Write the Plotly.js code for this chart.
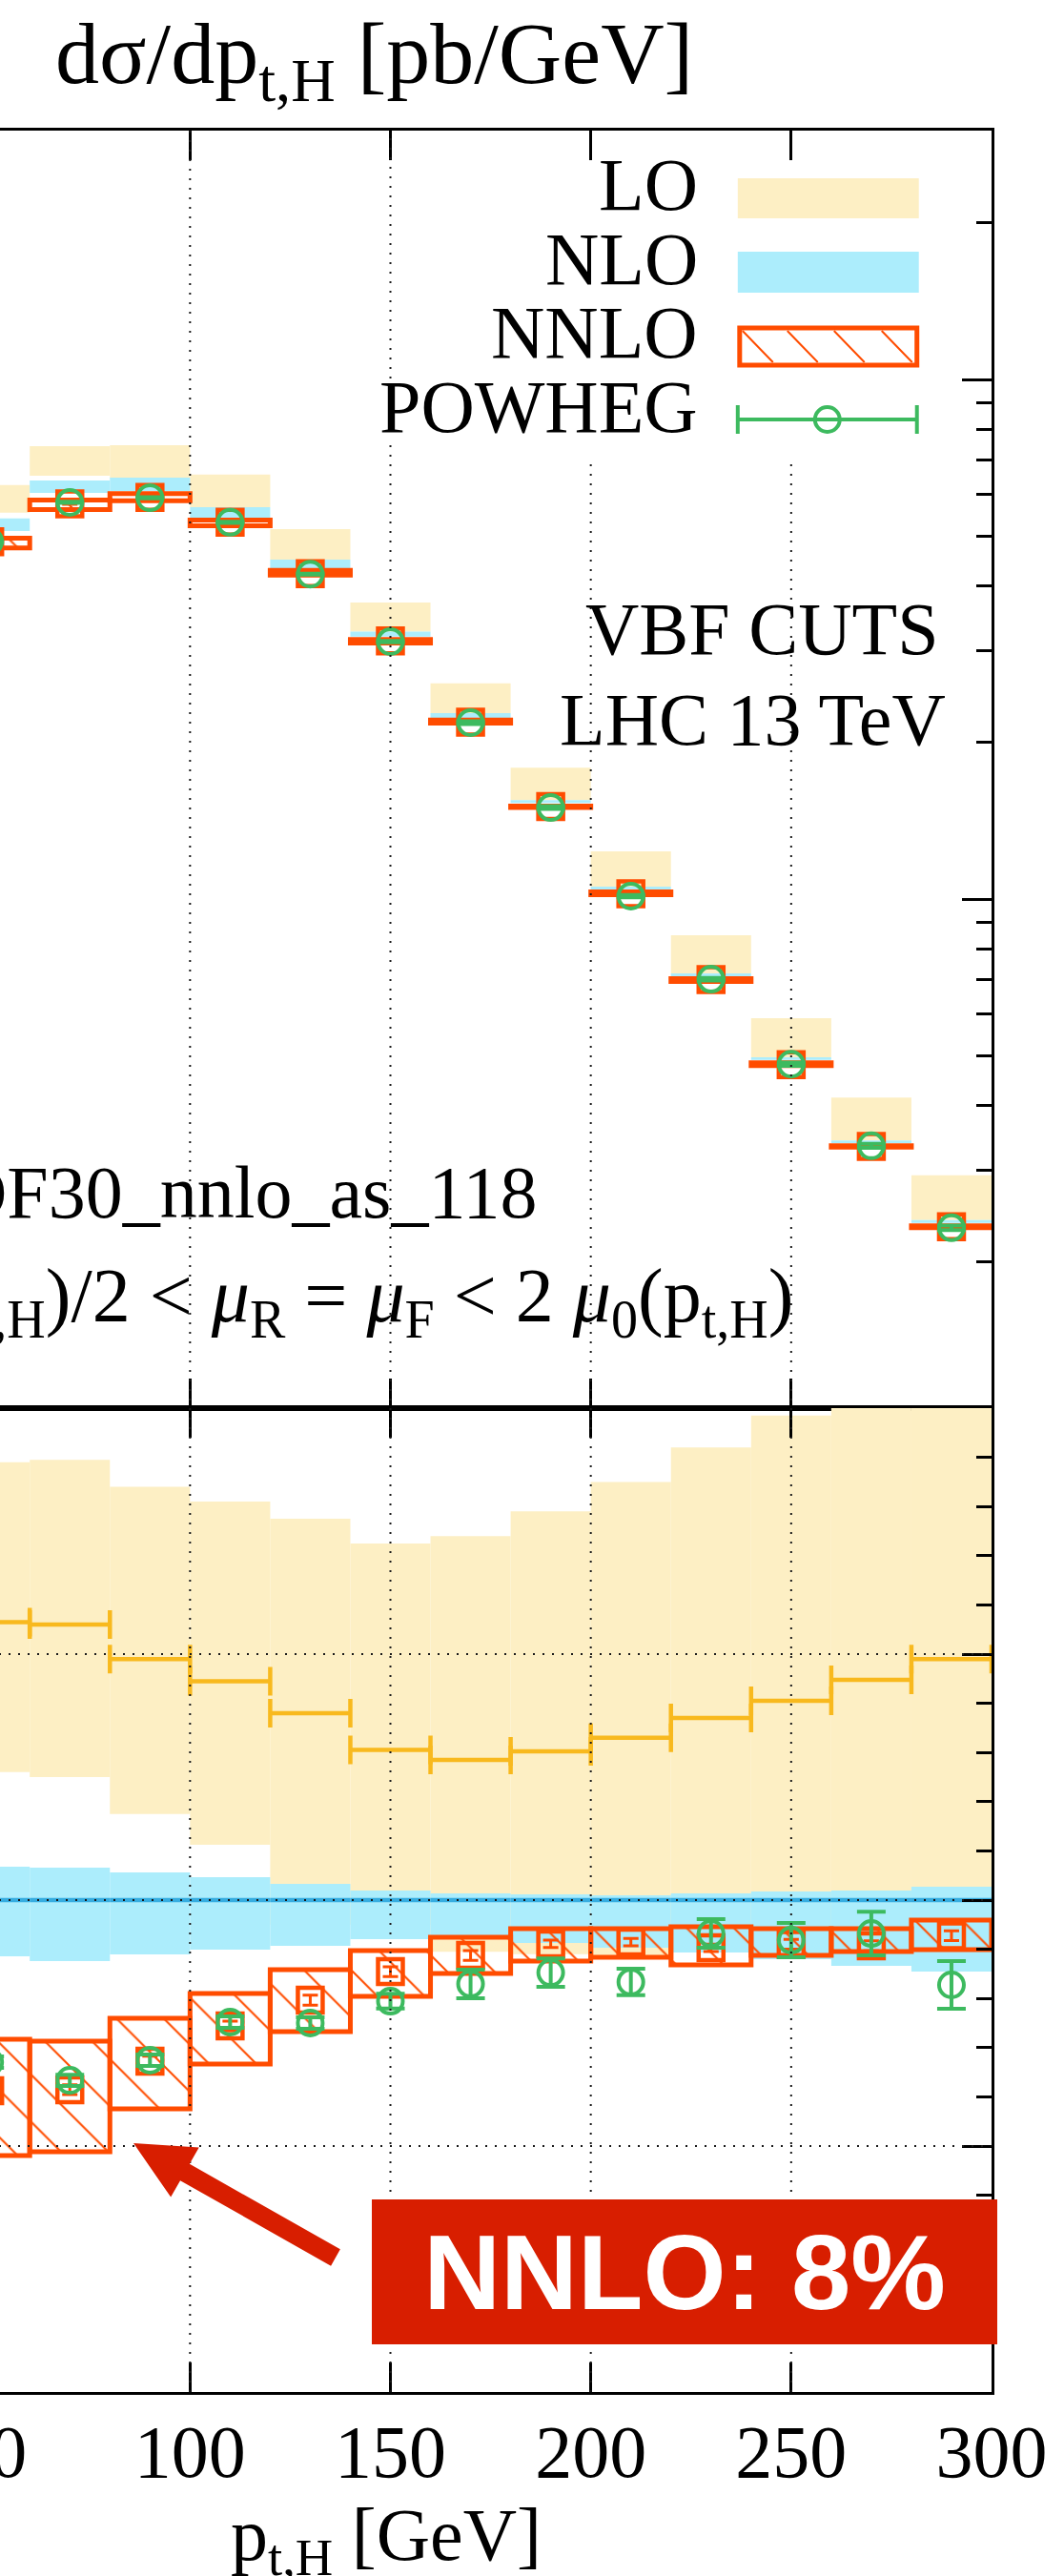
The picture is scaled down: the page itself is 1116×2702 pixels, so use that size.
<!DOCTYPE html>
<html><head><meta charset="utf-8">
<script src="https://cdn.plot.ly/plotly-3.0.1.min.js"></script>
<style>
html,body{margin:0;padding:0;overflow:hidden;background:#fff;width:1116px;height:2702px;}
#plot{position:absolute;left:-500px;top:0;width:1616px;height:2702px;}
</style></head><body><div id="plot"></div>
<script>
// ---------------- data ----------------
const binEdges = [40,60,80,100,120,140,160,180,200,220,240,260,280,300];
const xTickVals = [0,50,100,150,200,250,300];
const xTickText = ['0','50','100','150','200','250','300'];

// upper panel: dsigma/dpt [pb/GeV]
const loTopHi   = [6.26e-3,7.44e-3,7.47e-3,6.56e-3,5.15e-3,3.72e-3,2.60e-3,1.79e-3,1.235e-3,8.52e-4,5.90e-4,4.15e-4,2.94e-4];
const loTopLo   = [5.54e-3,6.53e-3,6.45e-3,5.68e-3,4.50e-3,3.27e-3,2.28e-3,1.55e-3,1.056e-3,7.19e-4,4.96e-4,3.43e-4,2.41e-4];
const nloTopHi  = [5.40e-3,6.39e-3,6.47e-3,5.68e-3,4.50e-3,3.27e-3,2.28e-3,1.55e-3,1.056e-3,7.19e-4,4.96e-4,3.43e-4,2.41e-4];
const nloTopLo  = [5.11e-3,6.05e-3,6.10e-3,5.42e-3,4.33e-3,3.20e-3,2.23e-3,1.53e-3,1.043e-3,7.10e-4,4.90e-4,3.39e-4,2.38e-4];
const nnloTopHi = [4.95e-3,5.86e-3,6.03e-3,5.36e-3,4.29e-3,3.16e-3,2.21e-3,1.51e-3,1.032e-3,7.03e-4,4.84e-4,3.35e-4,2.35e-4];
const nnloTopLo = [4.74e-3,5.62e-3,5.84e-3,5.23e-3,4.20e-3,3.11e-3,2.18e-3,1.50e-3,1.019e-3,6.94e-4,4.78e-4,3.33e-4,2.33e-4];
const nnloTopC  = [4.87e-3,5.76e-3,5.93e-3,5.31e-3,4.23e-3,3.14e-3,2.19e-3,1.507e-3,1.023e-3,7.00e-4,4.80e-4,3.34e-4,2.34e-4];
const powTopC   = [4.88e-3,5.80e-3,5.92e-3,5.31e-3,4.22e-3,3.13e-3,2.185e-3,1.50e-3,1.013e-3,7.01e-4,4.81e-4,3.35e-4,2.33e-4];

// lower panel: ratio to NLO
const loRHi   = [1.178,1.179,1.168,1.162,1.155,1.145,1.148,1.158,1.170,1.184,1.197,1.215,1.23];
const loRLo   = [1.052,1.050,1.035,1.0225,0.990,0.990,0.979,0.978,0.9775,0.985,0.985,0.985,0.985];
const loRC    = [1.113,1.112,1.098,1.089,1.076,1.061,1.057,1.0605,1.066,1.074,1.081,1.0895,1.098];
const nloRHi  = [1.0136,1.0132,1.0112,1.0093,1.0066,1.0039,1.0027,1.0023,1.0019,1.0027,1.0035,1.0039,1.0054];
const nloRLo  = [0.9771,0.9752,0.9779,0.9798,0.9814,0.9841,0.9845,0.9826,0.9806,0.9787,0.9760,0.9733,0.9709];
const nloRC   = [1,1,1,1,1,1,1,1,1,1,1,1,1];
const nnloRHi = [0.9434,0.9426,0.9519,0.9620,0.9717,0.9795,0.9849,0.9884,0.9884,0.9891,0.9884,0.9884,0.9919];
const nnloRLo = [0.8961,0.8977,0.9151,0.9333,0.9465,0.9609,0.9702,0.9752,0.9767,0.9736,0.9775,0.9791,0.9798];
const nnloRC  = [0.9225,0.9229,0.9345,0.9488,0.9593,0.9709,0.9775,0.9822,0.9829,0.9806,0.9820,0.9814,0.9855];
const nnloRErr= [0.002,0.002,0.002,0.002,0.002,0.002,0.002,0.0015,0.0015,0.0015,0.002,0.002,0.002];
const powRC   = [0.9341,0.9267,0.9349,0.9504,0.9500,0.9589,0.9659,0.9705,0.9667,0.9864,0.9837,0.9864,0.9655];
const powRErr = [0.0023,0.0023,0.0023,0.0023,0.0023,0.003,0.0058,0.0058,0.0054,0.0058,0.0070,0.0089,0.0097];

// ---------------- geometry / style ----------------
const SHIFT = 500, W = 1616, H = 2702;
const ML = SHIFT - 221.2, PW = 1261.5, MR = W - ML - PW;
const MT = 137, MB = 193, PH = H - MT - MB;
const SPLIT = (2509 - 1477) / PH;
const px = xp => (xp + SHIFT - ML) / PW;
const py = yp => (H - MB - yp) / PH;

const C_LO = '#fdefc4', C_NLO = '#acedfc', C_NNLO = '#ff4c00', C_POW = '#3dba5f';
const C_LOLINE = '#f8b91e', C_NLOLINE = '#37ade0', C_RED = '#d81e00';
const FONT = 'Liberation Serif';

const binCenters = binEdges.slice(0,-1).map((e,i)=>(e+binEdges[i+1])/2);
const binHalf = binEdges.slice(0,-1).map((e,i)=>(binEdges[i+1]-e)/2);
const binWidth = binHalf.map(h=>2*h);
const span = (hi, lo) => hi.map((h,i)=>h-lo[i]);

function band(hi, lo, color, xa, ya) {
  return {type:'bar', x:binCenters, y:span(hi,lo), base:lo, width:binWidth,
    xaxis:xa, yaxis:ya, marker:{color:color, line:{width:0}}, hoverinfo:'skip'};
}
function hatched(hi, lo, xa, ya) {
  return {type:'bar', x:binCenters, y:span(hi,lo), base:lo, width:binWidth,
    xaxis:xa, yaxis:ya, hoverinfo:'skip',
    marker:{color:'rgba(0,0,0,0)', line:{color:C_NNLO, width:5},
      pattern:{shape:'\\', fgcolor:C_NNLO, bgcolor:'rgba(0,0,0,0)', size:35, solidity:0.06}}};
}
function squares(yv, err, xa, ya) {
  return {type:'scatter', mode:'markers', x:binCenters, y:yv, xaxis:xa, yaxis:ya,
    marker:{symbol:'square-open', size:26, color:C_NNLO, line:{color:C_NNLO, width:4.5}},
    error_y:{type:'data', array:err, visible:true, color:C_NNLO, thickness:3, width:8}, cliponaxis:true};
}
function circles(yv, err, xa, ya) {
  return {type:'scatter', mode:'markers', x:binCenters, y:yv, xaxis:xa, yaxis:ya,
    marker:{symbol:'circle-open', size:26, color:C_POW, line:{color:C_POW, width:4}},
    error_y:{type:'data', array:err, visible:true, color:C_POW, thickness:4, width:15}, cliponaxis:true};
}
function stepLine(yv, color, capw, xa, ya) {
  return {type:'scatter', mode:'markers', x:binCenters, y:yv, xaxis:xa, yaxis:ya,
    marker:{size:1, color:'rgba(0,0,0,0)'},
    error_x:{type:'data', array:binHalf, visible:true, color:color, thickness:4.5, width:capw}};
}

const nnloTopErr = nnloTopC.map((v,i)=>v*nnloRErr[i]/nnloRC[i]);
const powTopErr = powTopC.map((v,i)=>v*powRErr[i]/powRC[i]);

const traces = [
  band(loTopHi, loTopLo, C_LO, 'x', 'y'),
  band(nloTopHi, nloTopLo, C_NLO, 'x', 'y'),
  hatched(nnloTopHi, nnloTopLo, 'x', 'y'),
  squares(nnloTopC, nnloTopErr, 'x', 'y'),
  circles(powTopC, powTopErr, 'x', 'y'),
  band(loRHi, loRLo, C_LO, 'x2', 'y2'),
  band(nloRHi, nloRLo, C_NLO, 'x2', 'y2'),
  hatched(nnloRHi, nnloRLo, 'x2', 'y2'),
  stepLine(nloRC, C_NLOLINE, 0, 'x2', 'y2'),
  stepLine(loRC, C_LOLINE, 15, 'x2', 'y2'),
  squares(nnloRC, nnloRErr, 'x2', 'y2'),
  circles(powRC, powRErr, 'x2', 'y2')
];

// ---------------- axes ----------------
const yMinorVals = [];
for (let d=-4; d<=-2; d++) for (let k=2; k<=9; k++) yMinorVals.push(k*Math.pow(10,d));

const axBase = {ticks:'inside', ticklen:31, tickwidth:3, tickcolor:'#000', showline:true,
  linewidth:3, linecolor:'#000', mirror:'ticks', showgrid:false, zeroline:false};

const layout = {
  width:W, height:H, margin:{l:ML, r:MR, t:MT, b:MB, pad:0},
  paper_bgcolor:'#fff', plot_bgcolor:'#fff', showlegend:false, barmode:'overlay', hovermode:false,
  font:{family:FONT, size:78, color:'#000'},
  xaxis:Object.assign({}, axBase, {domain:[0,1], anchor:'y', range:[0,300], tickmode:'array',
    tickvals:xTickVals, showticklabels:false}),
  xaxis2:Object.assign({}, axBase, {domain:[0,1], anchor:'y2', range:[0,300], tickmode:'array',
    tickvals:xTickVals, ticktext:xTickText, showticklabels:true, ticklabelstandoff:-8,
    tickfont:{family:FONT, size:78, color:'#000'}}),
  yaxis:Object.assign({}, axBase, {domain:[SPLIT,1], anchor:'x', type:'log', range:[-3.9798,-1.5211],
    tickmode:'array', tickvals:[1e-4,1e-3,1e-2], showticklabels:false,
    minor:{tickmode:'array', tickvals:yMinorVals, ticks:'inside', ticklen:16, tickwidth:3, tickcolor:'#000', showgrid:false}}),
  yaxis2:Object.assign({}, axBase, {domain:[0,SPLIT], anchor:'x2', range:[0.8,1.2],
    tickmode:'array', tickvals:[0.8,0.9,1.0,1.1,1.2], showticklabels:false,
    minor:{tick0:0.8, dtick:0.02, ticks:'inside', ticklen:16, tickwidth:3, tickcolor:'#000', showgrid:false}})
};

// ---------------- shapes ----------------
const dot = {color:'#1a1a1a', width:2, dash:'2px,8px'};
const shapes = [];
function vgrid(x, y0p, y1p) { shapes.push({type:'line', layer:'above', xref:'x', yref:'paper', x0:x, x1:x, y0:y0p, y1:y1p, line:dot}); }
vgrid(50, 0, 1);
vgrid(100, 0, 1);
vgrid(150, 0, py(460)); vgrid(150, py(397), 1);
vgrid(200, 0, py(480));
vgrid(250, 0, py(480));
shapes.push({type:'line', layer:'above', xref:'x', yref:'y', x0:0, x1:(491+221.2)/4.205, y0:-2, y1:-2, line:dot});
shapes.push({type:'line', layer:'above', xref:'x', yref:'y', x0:0, x1:300, y0:-3, y1:-3, line:dot});
[0.9,1.0,1.1].forEach(v=>shapes.push({type:'line', layer:'above', xref:'x2', yref:'y2', x0:0, x1:300, y0:v, y1:v, line:dot}));

// legend swatches
const P = (x,y)=>px(x).toFixed(5)+','+py(y).toFixed(5);
shapes.push({type:'rect', layer:'above', xref:'paper', yref:'paper', x0:px(774), x1:px(964), y0:py(229), y1:py(187), fillcolor:C_LO, line:{width:0}});
shapes.push({type:'rect', layer:'above', xref:'paper', yref:'paper', x0:px(774), x1:px(964), y0:py(307), y1:py(264), fillcolor:C_NLO, line:{width:0}});
shapes.push({type:'rect', layer:'above', xref:'paper', yref:'paper', x0:px(776), x1:px(962), y0:py(383), y1:py(344), fillcolor:'#fff', line:{color:C_NNLO, width:5}});
let hp = '';
[779,826,875,925].forEach(x=>{ hp += 'M'+P(x,347)+' L'+P(x+32,380)+' '; });
shapes.push({type:'path', layer:'above', xref:'paper', yref:'paper', path:hp, line:{color:C_NNLO, width:2}});
shapes.push({type:'line', layer:'above', xref:'paper', yref:'paper', x0:px(774), x1:px(962), y0:py(440), y1:py(440), line:{color:C_POW, width:4}});
shapes.push({type:'line', layer:'above', xref:'paper', yref:'paper', x0:px(774), x1:px(774), y0:py(425), y1:py(455), line:{color:C_POW, width:4}});
shapes.push({type:'line', layer:'above', xref:'paper', yref:'paper', x0:px(962), x1:px(962), y0:py(425), y1:py(455), line:{color:C_POW, width:4}});
shapes.push({type:'circle', layer:'above', xref:'paper', yref:'paper', x0:px(855), x1:px(881), y0:py(453), y1:py(427), line:{color:C_POW, width:4}});

// red arrow
const arrowPts = [[140,2248],[208.7,2252.4],[198.8,2269.8],[356.9,2359.3],[347.1,2376.7],[189.0,2287.2],[179.1,2304.6]];
shapes.push({type:'path', layer:'above', xref:'paper', yref:'paper',
  path:'M'+arrowPts.map(p=>P(p[0],p[1])).join(' L')+' Z', fillcolor:C_RED, line:{width:0}});

layout.shapes = shapes;

// ---------------- annotations ----------------
const ann = (o)=>Object.assign({xref:'paper', yref:'paper', showarrow:false, borderpad:0, font:{family:FONT, size:78, color:'#000'}}, o);
layout.annotations = [
  ann({x:px(57), y:py(4), xanchor:'left', yanchor:'top', text:'dσ/dp<sub>t,H</sub> [pb/GeV]', font:{family:FONT, size:92, color:'#000'}}),
  ann({x:px(733), y:py(193.5), xanchor:'right', yanchor:'middle', text:'LO'}),
  ann({x:px(733), y:py(271), xanchor:'right', yanchor:'middle', text:'NLO'}),
  ann({x:px(733), y:py(348), xanchor:'right', yanchor:'middle', text:'NNLO'}),
  ann({x:px(733), y:py(426), xanchor:'right', yanchor:'middle', text:'POWHEG'}),
  ann({x:px(986), y:py(659.5), xanchor:'right', yanchor:'middle', text:'VBF CUTS'}),
  ann({x:px(993), y:py(754), xanchor:'right', yanchor:'middle', text:'LHC 13 TeV'}),
  ann({x:px(565), y:py(1250), xanchor:'right', yanchor:'middle', text:'NNPDF30_nnlo_as_118'}),
  ann({x:px(833), y:py(1314), xanchor:'right', yanchor:'top',
    text:'<i>μ</i><sub>0</sub>(p<sub>t,H</sub>)/2 &lt; <i>μ</i><sub>R</sub> = <i>μ</i><sub>F</sub> &lt; 2 <i>μ</i><sub>0</sub>(p<sub>t,H</sub>)',
    font:{family:FONT, size:80, color:'#000'}}),
  ann({x:px(405.5), y:py(2614), xanchor:'center', yanchor:'top', text:'p<sub>t,H</sub> [GeV]'}),
  ann({x:px(390), y:py(2307), xanchor:'left', yanchor:'top', width:656, height:152, borderpad:0, borderwidth:0,
    bgcolor:C_RED, align:'center', valign:'middle', text:'<b>NNLO: 8%</b>',
    font:{family:'Liberation Sans', size:112, color:'#fff'}})
];

Plotly.newPlot('plot', traces, layout, {staticPlot:true, displayModeBar:false});
</script></body></html>
